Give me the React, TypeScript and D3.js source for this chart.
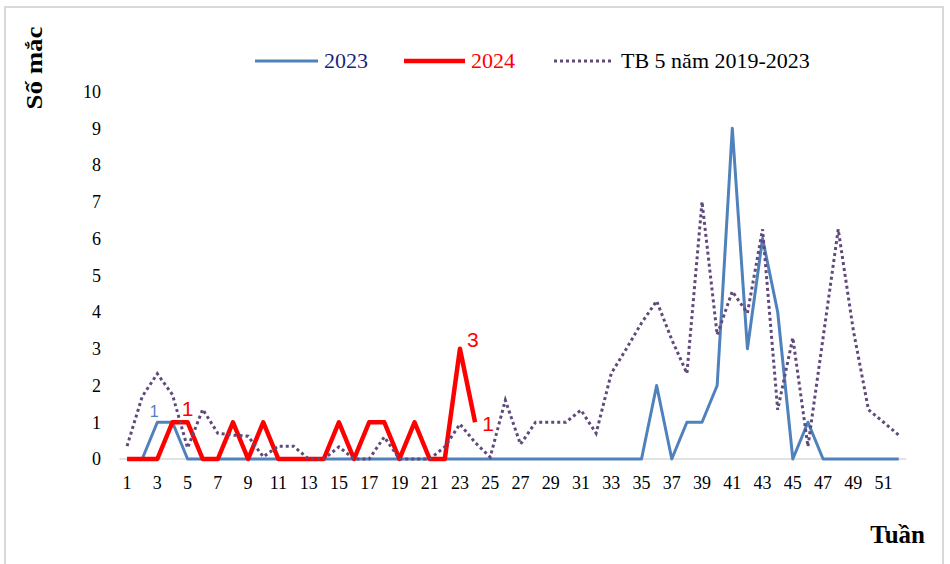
import React from "react";
import * as d3 from "d3";

// weekly case counts
const weeks = [
  1, 2, 3, 4, 5, 6, 7, 8, 9, 10, 11, 12, 13, 14, 15, 16, 17, 18, 19, 20, 21, 22, 23, 24, 25, 26,
  27, 28, 29, 30, 31, 32, 33, 34, 35, 36, 37, 38, 39, 40, 41, 42, 43, 44, 45, 46, 47, 48, 49, 50, 51, 52,
];
const cases2023 = [
  0, 0, 1, 1, 0, 0, 0, 0, 0, 0,
  0, 0, 0, 0, 0, 0, 0, 0, 0, 0,
  0, 0, 0, 0, 0, 0, 0, 0, 0, 0,
  0, 0, 0, 0, 0, 2, 0, 1, 1, 2,
  9, 3, 6, 4, 0, 1, 0, 0, 0, 0,
  0, 0,
];
const cases2024 = [0, 0, 0, 1, 1, 0, 0, 1, 0, 1, 0, 0, 0, 0, 1, 0, 1, 1, 0, 1, 0, 0, 3, 1];
const avg5y = [
  0.35, 1.7, 2.32, 1.75, 0.3, 1.35, 0.7, 0.65, 0.62, 0.06,
  0.35, 0.35, 0, 0, 0.33, 0, 0, 0.6, 0, 0,
  0, 0.33, 0.95, 0.45, 0.05, 1.6, 0.4, 1, 1, 1,
  1.33, 0.7, 2.33, 3, 3.7, 4.3, 3.25, 2.33, 7, 3.38,
  4.56, 3.97, 6.25, 1.34, 3.3, 0.34, 3.3, 6.25, 3.5, 1.34,
  1, 0.65,
];
const xTicks = [1, 3, 5, 7, 9, 11, 13, 15, 17, 19, 21, 23, 25, 27, 29, 31, 33, 35, 37, 39, 41, 43, 45, 47, 49, 51];
const yTicks = [0, 1, 2, 3, 4, 5, 6, 7, 8, 9, 10];

const serif = "'Liberation Serif', 'Times New Roman', serif";
const sans = "'Liberation Sans', Arial, sans-serif";

export default function App() {
  const width = 950;
  const height = 564;

  const x = d3.scaleLinear().domain([0.5, 52.5]).range([119.5, 906.3]);
  const y = d3.scaleLinear().domain([0, 10]).range([459, 91.5]);

  const line = d3
    .line<number>()
    .x((_, i) => x(weeks[i]))
    .y((d) => y(d));

  return (
    <svg
      width={width}
      height={height}
      style={{ position: "absolute", left: 0, top: 0, background: "#fff" }}
    >
      <rect x={5} y={7} width={938} height={580} fill="#fff" stroke="#d9d9d9" strokeWidth={2} />

      {/* y axis title */}
      <text
        transform="translate(42,68) rotate(-90)"
        textAnchor="middle"
        fontFamily={serif}
        fontWeight="bold"
        fontSize={23}
        textLength={83}
        lengthAdjust="spacingAndGlyphs"
      >
        Số mắc
      </text>

      {/* legend */}
      <g fontFamily={serif} fontSize={22}>
        <line x1={255} x2={318} y1={61} y2={61} stroke="#4F81BD" strokeWidth={3} />
        <text x={324} y={68} fill="#1f1f80">2023</text>
        <line x1={404} x2={465} y1={61} y2={61} stroke="#FF0000" strokeWidth={4.5} />
        <text x={471} y={68} fill="#FF0000">2024</text>
        <line x1={554} x2={611} y1={61} y2={61} stroke="#604A7B" strokeWidth={3} strokeDasharray="3,3" />
        <text x={621} y={68} fill="#000">TB 5 năm 2019-2023</text>
      </g>

      {/* y ticks */}
      <g fontFamily={serif} fontSize={18} fill="#000">
        {yTicks.map((t) => (
          <text key={t} x={101} y={y(t)} dy="0.35em" textAnchor="end">
            {t}
          </text>
        ))}
      </g>

      {/* baseline */}
      <line x1={x(0.5)} x2={x(52.5)} y1={y(0)} y2={y(0)} stroke="#d9d9d9" strokeWidth={1.5} />

      {/* x ticks */}
      <g fontFamily={serif} fontSize={18} fill="#000">
        {xTicks.map((t) => (
          <text key={t} x={x(t)} y={489} textAnchor="middle">
            {t}
          </text>
        ))}
      </g>

      <path d={line(cases2023) || ""} fill="none" stroke="#4F81BD" strokeWidth={3} strokeLinejoin="round" />
      <path d={line(cases2024) || ""} fill="none" stroke="#FF0000" strokeWidth={4.5} strokeLinejoin="round" />
      <path d={line(avg5y) || ""} fill="none" stroke="#604A7B" strokeWidth={3} strokeDasharray="3,3" />

      {/* data labels */}
      <text x={x(3) - 3} y={y(cases2023[2]) - 5} textAnchor="middle" fontFamily={sans} fontSize={16} fill="#4F81BD">
        1
      </text>
      <text x={x(5)} y={y(cases2024[4]) - 6} textAnchor="middle" fontFamily={sans} fontSize={21} fill="#FF0000">
        1
      </text>
      <text x={x(23) + 13} y={y(cases2024[22]) - 2} textAnchor="middle" fontFamily={sans} fontSize={21} fill="#FF0000">
        3
      </text>
      <text x={x(24) + 13} y={y(cases2024[23]) + 9} textAnchor="middle" fontFamily={sans} fontSize={21} fill="#FF0000">
        1
      </text>

      {/* x axis title */}
      <text x={925} y={543} textAnchor="end" fontFamily={serif} fontWeight="bold" fontSize={25}>
        Tuần
      </text>
    </svg>
  );
}
